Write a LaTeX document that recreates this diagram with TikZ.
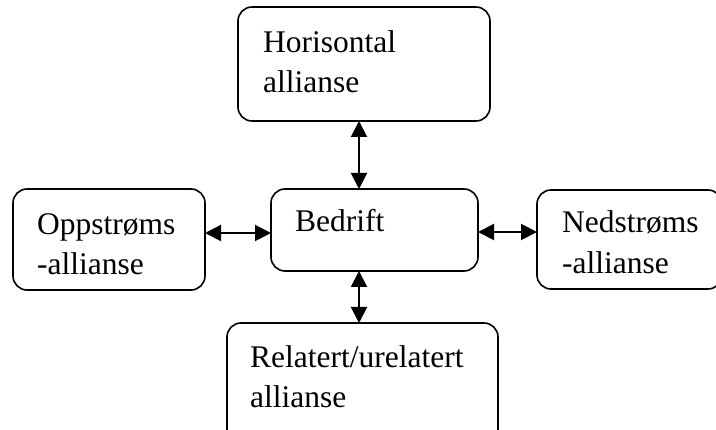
\documentclass[tikz,border=0pt]{standalone}
\usepackage{fontspec}
\setmainfont{Liberation Serif}
\usetikzlibrary{arrows.meta}
\begin{document}
\begin{tikzpicture}[x=1pt,y=1pt,
  box/.style={draw, line width=1.6pt, rounded corners=14pt, outer sep=0pt, inner sep=0pt},
  lbl/.style={anchor=base west, inner sep=0pt, font=\fontsize{31.5}{40}\selectfont},
  tip/.style={Triangle[length=16pt,width=16pt]},
  link/.style={line width=2pt, {Triangle[length=16pt,width=16pt]}-{Triangle[length=16pt,width=16pt]}}]
\useasboundingbox (0,0) rectangle (716,-430);

% boxes
\node[box, minimum width=252pt, minimum height=114pt] (top)   at (364,-64) {};
\node[box, minimum width=192pt, minimum height=101pt] (left)  at (109,-239.5) {};
\node[box, minimum width=207pt, minimum height=82pt]  (mid)   at (374.5,-230) {};
\node[box, minimum width=185pt, minimum height=99pt]  (right) at (629.5,-239.5) {};
\node[box, minimum width=271pt, minimum height=122pt] (bot)   at (362.5,-384) {};

% lines along which the connectors run
\coordinate (vx) at (359,0);
\coordinate (hyl) at (0,-233);
\coordinate (hyr) at (0,-232);

% texts
\node[lbl] (h1) at (263,-53) {Horisontal};
\node[lbl] (h2) at (263,-93) {allianse};
\node[lbl] (o1) at (37,-235) {Oppstrøms};
\node[lbl] (o2) at (37,-275) {-allianse};
\node[lbl] (b1) at (295,-232) {Bedrift};
\node[lbl] (n1) at (562,-233) {Nedstrøms};
\node[lbl] (n2) at (562,-274) {-allianse};
\node[lbl] (r1) at (250,-368) {Relatert/urelatert};
\node[lbl] (r2) at (250,-408) {allianse};

% connectors
\draw[link] (top.south -| vx) -- (mid.north -| vx);
\draw[link] (mid.south -| vx) -- (bot.north -| vx);
\draw[link] (left.east |- hyl) -- (mid.west |- hyl);
\draw[link] (mid.east |- hyr) -- (right.west |- hyr);
\end{tikzpicture}
\end{document}
